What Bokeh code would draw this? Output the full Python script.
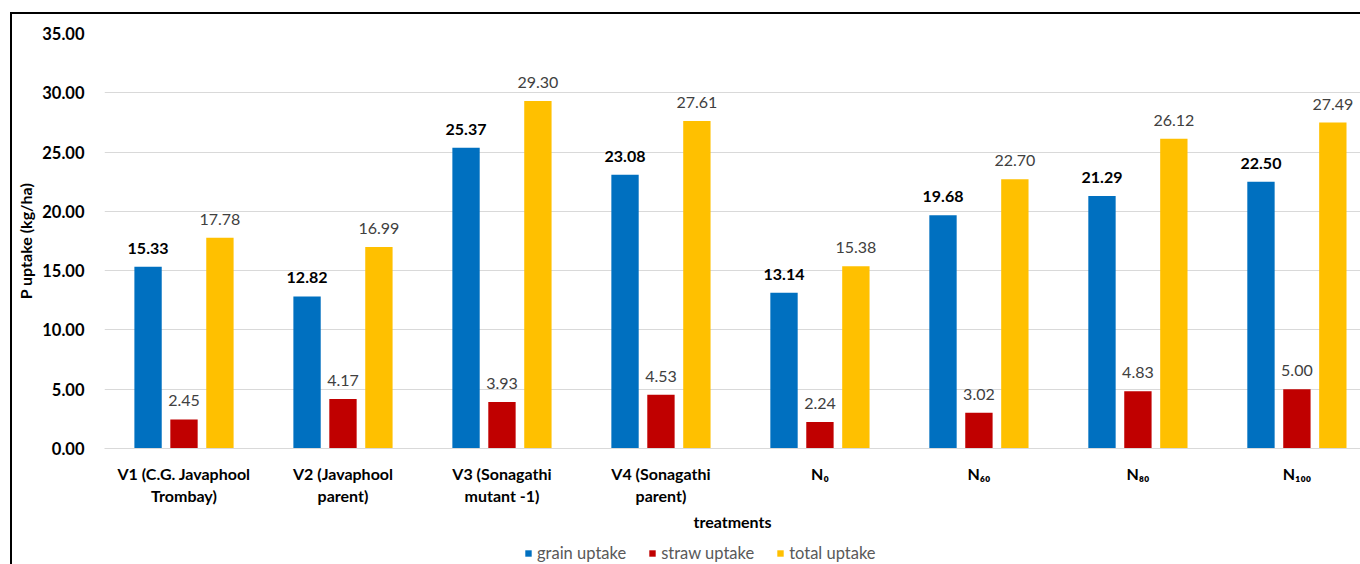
from bokeh.plotting import figure
from bokeh.layouts import column
from bokeh.models import (Range1d, FixedTicker, Legend, LegendItem, ColumnDataSource,
                          LabelSet, NumeralTickFormatter)
from bokeh.core.properties import value
from bokeh.embed import file_html
from bokeh.resources import INLINE

# P uptake by treatment (kg/ha)
treatments = ["V1 (C.G. Javaphool\nTrombay)", "V2 (Javaphool\nparent)",
              "V3 (Sonagathi\nmutant -1)", "V4 (Sonagathi\nparent)",
              "N\u2080", "N\u2086\u2080", "N\u2088\u2080", "N\u2081\u2080\u2080"]
grain = [15.33, 12.82, 25.37, 23.08, 13.14, 19.68, 21.29, 22.50]
straw = [2.45, 4.17, 3.93, 4.53, 2.24, 3.02, 4.83, 5.00]
total = [17.78, 16.99, 29.30, 27.61, 15.38, 22.70, 26.12, 27.49]
series_names = ["grain uptake", "straw uptake", "total uptake"]
y_ticks = [0, 5, 10, 15, 20, 25, 30, 35]

FONT = "Lato"
colors = ["#0070C0", "#C00000", "#FFC000"]
centers = [i + 0.5 for i in range(len(treatments))]
bar_w = 0.172
shift = 0.226

chart = figure(width=1348, height=520, output_backend="svg", toolbar_location=None,
               x_range=Range1d(0, 7.9), y_range=Range1d(0, 35),
               min_border_left=92, min_border_right=0, min_border_top=19,
               min_border_bottom=86)
chart.outline_line_color = None
chart.background_fill_color = "white"
chart.border_fill_color = "white"

# grid
chart.xgrid.grid_line_color = None
chart.ygrid.grid_line_color = "#D9D9D9"
chart.ygrid.grid_line_width = 1

# y axis
chart.yaxis.ticker = FixedTicker(ticks=y_ticks)
chart.yaxis.formatter = NumeralTickFormatter(format="0.00")
chart.yaxis.axis_line_color = None
chart.yaxis.major_tick_line_color = None
chart.yaxis.minor_tick_line_color = None
chart.yaxis.major_label_text_font = FONT
chart.yaxis.major_label_text_font_style = "bold"
chart.yaxis.major_label_text_font_size = "16.5px"
chart.yaxis.major_label_text_color = "#000000"
chart.yaxis.major_label_standoff = 14
chart.yaxis.axis_label = "P uptake (kg/ha)"
chart.yaxis.axis_label_text_font = FONT
chart.yaxis.axis_label_text_font_style = "bold"
chart.yaxis.axis_label_text_font_size = "16px"
chart.yaxis.axis_label_text_color = "#000000"
chart.yaxis.axis_label_standoff = 4

# x axis
chart.xaxis.ticker = FixedTicker(ticks=centers)
chart.xaxis.major_label_overrides = {c: t for c, t in zip(centers, treatments)}
chart.xaxis.axis_line_color = "#D9D9D9"
chart.xaxis.major_tick_line_color = None
chart.xaxis.minor_tick_line_color = None
chart.xaxis.major_label_text_font = FONT
chart.xaxis.major_label_text_font_style = "bold"
chart.xaxis.major_label_text_font_size = "16px"
chart.xaxis.major_label_text_color = "#000000"
chart.xaxis.major_label_standoff = 9
chart.xaxis.axis_label = "treatments"
chart.xaxis.axis_label_text_font = FONT
chart.xaxis.axis_label_text_font_style = "bold"
chart.xaxis.axis_label_text_font_size = "16px"
chart.xaxis.axis_label_text_color = "#000000"
chart.xaxis.axis_label_standoff = 4

for k, (vals, col) in enumerate(zip([grain, straw, total], colors)):
    xs = [c + (k - 1) * shift for c in centers]
    src = ColumnDataSource(dict(x=xs, top=vals, lab=[f"{v:.2f}" for v in vals]))
    chart.vbar(x="x", top="top", bottom=0, width=bar_w, source=src,
               fill_color=col, line_color=None)
    labels = LabelSet(x="x", y="top", text="lab", source=src,
                      text_align="center", text_baseline="alphabetic", y_offset=13,
                      text_font=value(FONT), text_font_size="16px",
                      text_font_style="bold" if k == 0 else "normal",
                      text_color="#000000" if k == 0 else "#404040")
    chart.add_layout(labels)

# legend strip under the chart; its swatch renderers hold zero-height bars
key = figure(width=1348, height=30, output_backend="svg", toolbar_location=None,
             x_range=Range1d(0, 1), y_range=Range1d(0, 1),
             x_axis_location=None, y_axis_location=None,
             min_border=0)
key.outline_line_color = None
key.grid.visible = False
swatches = [key.vbar(x=[0.5], top=[0], bottom=0, width=0.01, fill_color=col,
                     line_color=None)
            for col in colors]
legend = Legend(items=[LegendItem(label=n, renderers=[r]) for n, r in zip(series_names, swatches)],
                orientation="horizontal", location=(420, 1),
                glyph_width=8, glyph_height=8, label_standoff=5, spacing=22,
                label_text_font=FONT, label_text_font_size="16.5px",
                label_text_color="#595959", border_line_color=None,
                background_fill_alpha=0, padding=0, margin=0)
key.add_layout(legend)

p = column(chart, key, spacing=0, margin=(12, 0, 0, 10),
           styles={"border-left": "2px solid #000000", "border-top": "2px solid #000000"})

open("out.html", "w").write(file_html(p, INLINE))
